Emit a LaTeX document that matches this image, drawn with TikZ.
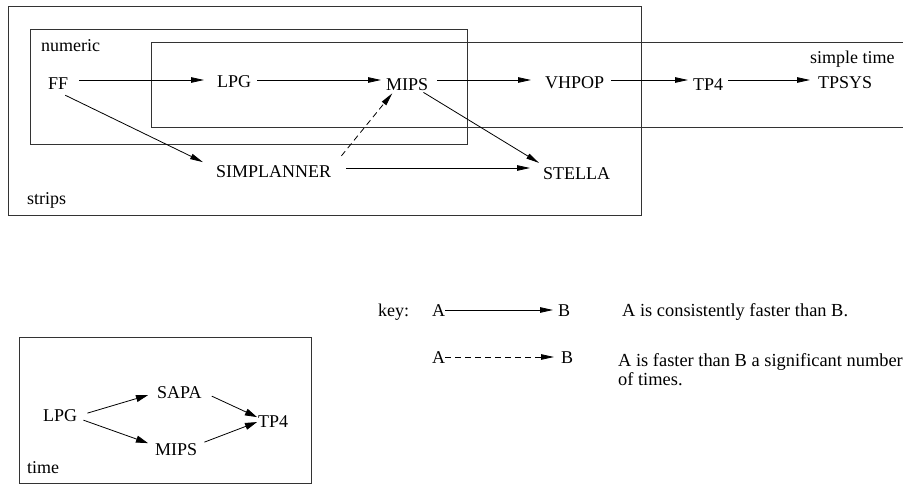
\documentclass[tikz,border=0pt]{standalone}
\usepackage{fontspec}
\setmainfont{Liberation Serif}
\newfontfamily\refserif{Liberation Serif}
\usetikzlibrary{arrows.meta}
\begin{document}
\begin{tikzpicture}[x=1pt,y=-1pt,
  font=\refserif\fontsize{18}{17}\selectfont,
  lbl/.style={anchor=base west, inner sep=0pt},
  keytxt/.style={lbl, font=\refserif\fontsize{18.4}{19}\selectfont},
  box/.style={draw=black!80, line width=0.9pt},
  arr/.style={draw=black, line width=0.8pt, -{Triangle[length=13pt,width=5.5pt]}},
  arrb/.style={draw=black, line width=0.8pt, -{Triangle[length=12pt,width=7pt]}},
  dsh/.style={dash pattern=on 6pt off 4pt}]
\useasboundingbox (0,0) rectangle (903,485);
% boxes
\draw[box] (8,6) rectangle (641,215);
\draw[box] (30,29) rectangle (467,144);
\draw[box] (903,42) -- (151,42) -- (151,127) -- (903,127);
\draw[box] (19,337) rectangle (311,483);
% labels
\node[lbl] (numeric) at (41,51) {numeric};
\node[lbl] (strips) at (27,204) {strips};
\node[lbl] (simple) at (810,63) {simple time};
\node[lbl] (time) at (27,473) {time};
% row coordinates
\coordinate (r1) at (0,80);
\coordinate (r2) at (0,168);
% top nodes
\node[lbl] (ff) at (48,89) {FF};
\node[lbl] (lpg) at (217,87) {LPG};
\node[lbl] (mips) at (386,90) {MIPS};
\node[lbl] (vhpop) at (545,88) {VHPOP};
\node[lbl] (tp4) at (693,90) {TP4};
\node[lbl] (tpsys) at (818,88) {TPSYS};
\node[lbl] (simp) at (216,177) {SIMPLANNER};
\node[lbl] (stella) at (543,179) {STELLA};
% top edges
\draw[arr] ([xshift=11pt]ff.east |- r1) -- ([xshift=-13pt]lpg.west |- r1);
\draw[arr] ([xshift=6pt]lpg.east |- r1) -- ([xshift=-5pt]mips.west |- r1);
\draw[arr] ([xshift=9pt]mips.east |- r1) -- ([xshift=-14pt]vhpop.west |- r1);
\draw[arr] ([xshift=7pt]vhpop.east |- r1) -- ([xshift=-5pt]tp4.west |- r1);
\draw[arr] ([xshift=5pt]tp4.east |- r1) -- ([xshift=-8pt]tpsys.west |- r1);
\draw[arr] ([xshift=15pt]simp.east |- r2) -- ([xshift=-13pt]stella.west |- r2);
\draw[arr] ([shift={(7,6)}]ff.south) -- ([shift={(-13,-9)}]simp.west);
\draw[arr, dsh] ([shift={(10,-9)}]simp.north east) -- ([shift={(-15,3)}]mips.south);
\draw[arr] ([shift={(-5,2)}]mips.south east) -- ([shift={(-4,-4)}]stella.north west);
% time graph
\node[lbl] (tlpg) at (43,421) {LPG};
\node[lbl] (sapa) at (157,398) {SAPA};
\node[lbl] (tmips) at (155,455) {MIPS};
\node[lbl] (ttp4) at (258,427) {TP4};
\draw[arrb] ([shift={(10,-2)}]tlpg.east) -- ([shift={(-9,3)}]sapa.west);
\draw[arrb] ([shift={(6,5)}]tlpg.east) -- ([shift={(-7,-6)}]tmips.west);
\draw[arrb] ([shift={(10,4)}]sapa.east) -- ([shift={(-1,-4)}]ttp4.west);
\draw[arrb] ([shift={(7,-7)}]tmips.east) -- ([shift={(-1,1)}]ttp4.west);
% key
\coordinate (k1) at (0,310);
\coordinate (k2) at (0,357);
\node[lbl] (key) at (378,316) {key:};
\node[lbl] (ka1) at (432,316) {A};
\node[lbl] (kb1) at (558,316) {B};
\node[lbl] (ka2) at (432,363) {A};
\node[lbl] (kb2) at (561,363) {B};
\draw[arr] (ka1.east |- k1) -- ([xshift=-5pt]kb1.west |- k1);
\draw[arr, dash pattern=on 6pt off 4pt] (ka2.east |- k2) -- ([xshift=-7pt]kb2.west |- k2);
\node[keytxt] (t1) at (622,316) {A is consistently faster than B.};
\node[keytxt, align=left] (t2) at (618,385) {A is faster than B a significant number\\of times.};
\end{tikzpicture}
\end{document}
